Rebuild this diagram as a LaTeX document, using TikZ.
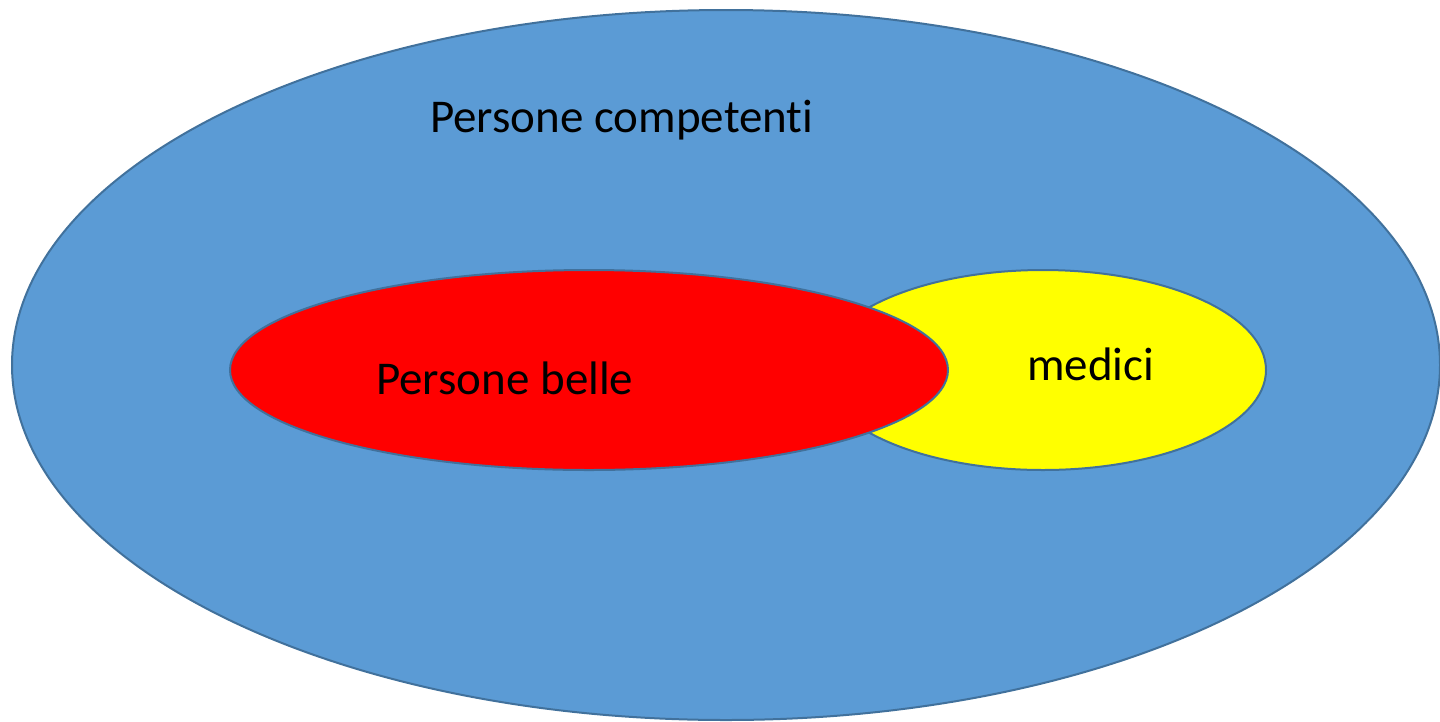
\documentclass[tikz,border=0pt]{standalone}
\usepackage{fontspec}
\setmainfont{Carlito}[Ligatures={NoCommon,NoRequired,NoContextual}]
\usepackage{tikz}
\usetikzlibrary{shapes}

\definecolor{setblue}{HTML}{5B9BD5}
\definecolor{setline}{HTML}{41719C}
\definecolor{setyellow}{HTML}{FFFF00}

\begin{document}
\begin{tikzpicture}[x=1pt,y=-1pt]
      \tikzstyle{set} = [ellipse, draw=setline, line width=2pt, inner sep=0pt]
      \tikzstyle{label} = [font=\fontsize{47}{56}\selectfont, inner sep=0pt]
      \useasboundingbox (0,0) rectangle (1440,721);
      % sets
      \node (competenti) [set, fill=setblue, minimum width=1428pt, minimum height=710pt] at (726,365) {};
      \node (medici) [set, fill=setyellow, minimum width=446pt, minimum height=200pt] at (1043,370) {};
      \node (belle) [set, fill=red, minimum width=718pt, minimum height=200pt] at (589,370) {};
      % labels
      \node (lcompetenti) [label, anchor=base west] at (430,132) {Persone competent\kern0pt i};
      \node (lbelle) [label, anchor=base west] at (376,394) {Persone belle};
      \node (lmedici) [label, anchor=base west] at (1027,380) {medici};
\end{tikzpicture}
\end{document}
